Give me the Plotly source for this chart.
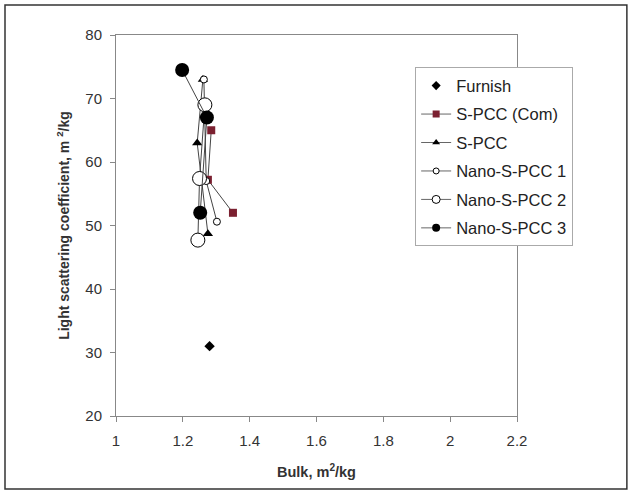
import plotly.graph_objects as go

# ---- data ----
furnish_x = [1.28]
furnish_y = [31.0]

spcc_com_x = [1.285, 1.275, 1.35]
spcc_com_y = [65.0, 57.2, 52.0]

spcc_x = [1.26, 1.243, 1.275]
spcc_y = [73.0, 63.0, 48.7]

nano1_x = [1.263, 1.27, 1.302]
nano1_y = [73.0, 57.0, 50.6]

nano2_x = [1.266, 1.25, 1.245]
nano2_y = [69.0, 57.4, 47.7]

nano3_x = [1.198, 1.272, 1.252]
nano3_y = [74.5, 67.0, 52.0]

x_ticks = [1, 1.2, 1.4, 1.6, 1.8, 2, 2.2]
x_tick_labels = ["1", "1.2", "1.4", "1.6", "1.8", "2", "2.2"]
y_ticks = [20, 30, 40, 50, 60, 70, 80]

FONT = "Liberation Sans, Arial, sans-serif"
LINE = "#444444"
DARKRED = "#7b2030"

series = [
    ("Furnish", furnish_x, furnish_y, "markers",
     dict(symbol="diamond", size=8, color="black"),
     dict(symbol="diamond", size=7, color="black")),
    ("S-PCC (Com)", spcc_com_x, spcc_com_y, "lines+markers",
     dict(symbol="square", size=8, color=DARKRED, line=dict(color=DARKRED, width=0)),
     dict(symbol="square", size=7, color=DARKRED)),
    ("S-PCC", spcc_x, spcc_y, "lines+markers",
     dict(symbol="triangle-up", size=9, color="black"),
     dict(symbol="triangle-up", size=7, color="black")),
    ("Nano-S-PCC 1", nano1_x, nano1_y, "lines+markers",
     dict(symbol="circle", size=7, color="white", line=dict(color="black", width=1)),
     dict(symbol="circle", size=6, color="white", line=dict(color="black", width=1))),
    ("Nano-S-PCC 2", nano2_x, nano2_y, "lines+markers",
     dict(symbol="circle", size=14, color="white", line=dict(color="black", width=1)),
     dict(symbol="circle", size=8, color="white", line=dict(color="black", width=1))),
    ("Nano-S-PCC 3", nano3_x, nano3_y, "lines+markers",
     dict(symbol="circle", size=14, color="black"),
     dict(symbol="circle", size=8, color="black")),
]

fig = go.Figure()
for i, (name, xs, ys, mode, mk, lmk) in enumerate(series):
    fig.add_trace(go.Scatter(
        x=xs, y=ys, mode=mode, name=name, marker=mk,
        line=dict(color=LINE, width=1), showlegend=False,
    ))
for i, (name, xs, ys, mode, mk, lmk) in enumerate(series):
    fig.add_trace(go.Scatter(
        x=[None], y=[None], mode=mode, name=name, marker=lmk,
        line=dict(color="#666666", width=1), legendgroup="g%d" % i,
        showlegend=True,
    ))

fig.update_layout(
    width=630, height=494,
    margin=dict(l=116, r=113, t=35, b=78),
    paper_bgcolor="white", plot_bgcolor="white",
    font=dict(family=FONT, size=15, color="#333333"),
    showlegend=True,
    legend=dict(
        x=0.746, y=0.915, xanchor="left", yanchor="top",
        bordercolor="#aaaaaa", borderwidth=1, bgcolor="white",
        font=dict(family=FONT, size=16.5, color="#222222"),
        tracegroupgap=4, itemwidth=30,
    ),
    xaxis=dict(
        range=[1, 2.2], tickvals=x_ticks, ticktext=x_tick_labels,
        showgrid=False, zeroline=False,
        showline=True, linecolor="#888888", linewidth=1, mirror=True,
        ticks="outside", ticklen=5, tickcolor="#888888",
        ticklabelstandoff=6,
        tickfont=dict(size=15, color="#333333"),
        title=dict(text="<b>Bulk, m<sup>2</sup>/kg</b>", font=dict(size=14.5, color="#333333"), standoff=18),
    ),
    yaxis=dict(
        range=[20, 80], tickvals=y_ticks,
        showgrid=False, zeroline=False,
        showline=True, linecolor="#888888", linewidth=1, mirror=True,
        ticks="outside", ticklen=5, tickcolor="#888888",
        ticklabelstandoff=5,
        tickfont=dict(size=15, color="#333333"),
        title=dict(text="<b>Light scattering coefficient, m <sup>2</sup>/kg</b>",
                   font=dict(size=14, color="#333333"), standoff=12),
    ),
    shapes=[dict(type="rect", xref="paper", yref="paper",
                 x0=-0.2768, x1=1.274, y0=-0.1916, y1=1.0787,
                 line=dict(color="#333333", width=1.5), fillcolor="rgba(0,0,0,0)")],
)

fig.write_html("out.html")
